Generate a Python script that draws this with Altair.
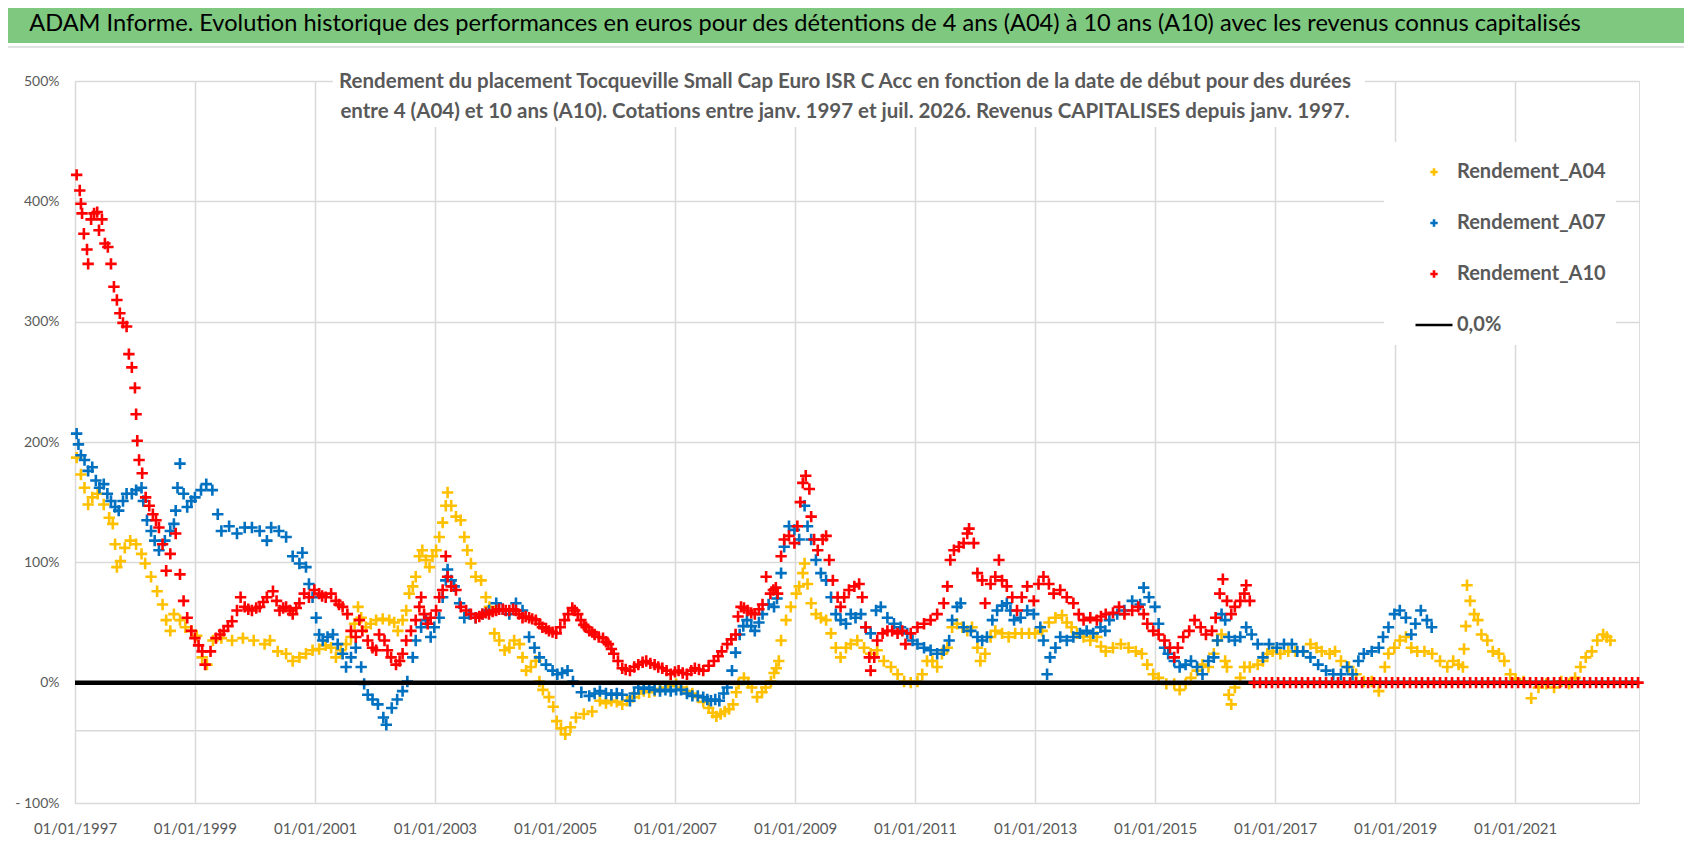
import altair as alt
import pandas as pd

TITLE = "ADAM Informe. Evolution historique des performances en euros pour des détentions de 4 ans (A04) à 10 ans (A10) avec les revenus connus capitalisés"
SUB1 = "Rendement du placement Tocqueville Small Cap Euro ISR C Acc en fonction de la date de début pour des durées"
SUB2 = "entre 4 (A04) et 10 ans (A10).  Cotations entre janv. 1997 et juil. 2026. Revenus CAPITALISES depuis janv. 1997."
SERIES = ["Rendement_A04", "Rendement_A07", "Rendement_A10", "0,0%"]
COLORS = ["#FFC000", "#0070C0", "#FF0000", "#000000"]
X_TICK_YEARS = [1997, 1999, 2001, 2003, 2005, 2007, 2009, 2011, 2013, 2015, 2017, 2019, 2021]
Y_TICKS = [-100, 0, 100, 200, 300, 400, 500]
EXTRA_GRID = -40

# (decimal year of start date, return %)
A04 = [(1997.03,187),(1997.10,173),(1997.16,162),(1997.22,148),(1997.29,154),(1997.38,157),(1997.48,148),(1997.57,137),(1997.63,132),(1997.67,115),(1997.70,96),(1997.76,101),(1997.83,112),(1997.92,118),(1998.02,115),(1998.11,107),(1998.17,99),(1998.27,88),(1998.37,76),(1998.46,65),(1998.52,52),(1998.59,43),(1998.65,57),(1998.75,52),(1998.84,46),(1998.94,43),(1999.03,39),(1999.12,21),(1999.20,15),(1999.30,35),(1999.44,37),(1999.62,35),(1999.80,37),(1999.98,35),(2000.16,32),(2000.25,35),(2000.38,26),(2000.52,24),(2000.63,18),(2000.74,21),(2000.85,24),(2000.96,27),(2001.07,28),(2001.18,31),(2001.27,29),(2001.35,21),(2001.43,27),(2001.52,32),(2001.60,38),(2001.66,49),(2001.72,63),(2001.77,54),(2001.85,46),(2001.93,49),(2002.02,52),(2002.13,53),(2002.24,52),(2002.32,50),(2002.38,43),(2002.46,52),(2002.52,60),(2002.57,74),(2002.63,80),(2002.68,88),(2002.74,105),(2002.79,110),(2002.85,102),(2002.91,96),(2002.96,105),(2003.02,110),(2003.07,121),(2003.13,133),(2003.18,147),(2003.21,158),(2003.27,147),(2003.35,138),(2003.43,135),(2003.49,121),(2003.54,110),(2003.60,99),(2003.68,88),(2003.77,85),(2003.85,71),(2003.91,63),(2003.99,41),(2004.07,35),(2004.16,27),(2004.24,29),(2004.32,35),(2004.41,32),(2004.46,21),(2004.52,10),(2004.60,13),(2004.68,18),(2004.74,1),(2004.80,-6),(2004.90,-12),(2004.97,-20),(2005.03,-32),(2005.10,-38),(2005.17,-43),(2005.26,-37),(2005.35,-29),(2005.48,-26),(2005.62,-24),(2005.75,-15),(2005.85,-17),(2005.94,-15),(2006.03,-16),(2006.12,-18),(2006.20,-15),(2006.30,-12),(2006.40,-9),(2006.48,-7),(2006.57,-8),(2006.66,-7),(2006.75,-5),(2006.84,-4),(2006.93,-3),(2007.02,-1),(2007.10,-4),(2007.20,-7),(2007.29,-9),(2007.38,-12),(2007.47,-16),(2007.56,-21),(2007.63,-25),(2007.69,-28),(2007.76,-26),(2007.83,-24),(2007.90,-22),(2007.97,-18),(2008.02,-8),(2008.06,-1),(2008.15,4),(2008.22,0),(2008.28,-4),(2008.37,-12),(2008.45,-8),(2008.51,-4),(2008.60,1),(2008.65,8),(2008.69,12),(2008.73,18),(2008.77,35),(2008.85,52),(2008.93,63),(2009.02,74),(2009.07,80),(2009.13,91),(2009.16,99),(2009.21,82),(2009.27,66),(2009.35,57),(2009.43,54),(2009.52,52),(2009.60,41),(2009.68,29),(2009.76,21),(2009.85,29),(2009.93,32),(2010.04,35),(2010.15,29),(2010.26,24),(2010.37,27),(2010.48,18),(2010.60,13),(2010.71,7),(2010.82,1),(2010.93,0),(2011.04,1),(2011.12,7),(2011.20,18),(2011.29,18),(2011.37,13),(2011.45,24),(2011.54,29),(2011.62,46),(2011.70,49),(2011.79,46),(2011.87,43),(2011.95,46),(2012.04,29),(2012.09,18),(2012.17,24),(2012.26,38),(2012.34,43),(2012.45,41),(2012.56,38),(2012.67,41),(2012.78,41),(2012.90,41),(2013.00,41),(2013.12,43),(2013.23,50),(2013.34,54),(2013.45,56),(2013.53,50),(2013.61,46),(2013.70,41),(2013.81,38),(2013.92,35),(2014.03,38),(2014.10,30),(2014.18,26),(2014.30,29),(2014.43,32),(2014.56,29),(2014.68,26),(2014.78,24),(2014.87,15),(2014.97,7),(2015.06,4),(2015.19,-1),(2015.32,-1),(2015.41,-6),(2015.51,-1),(2015.60,4),(2015.70,10),(2015.79,15),(2015.89,13),(2015.98,24),(2016.04,35),(2016.11,40),(2016.17,18),(2016.20,13),(2016.23,-10),(2016.27,-18),(2016.33,-4),(2016.42,4),(2016.49,13),(2016.58,13),(2016.71,15),(2016.80,18),(2016.87,24),(2016.96,26),(2017.09,24),(2017.22,26),(2017.34,26),(2017.47,26),(2017.59,32),(2017.69,29),(2017.78,26),(2017.91,24),(2018.00,26),(2018.10,18),(2018.23,13),(2018.35,7),(2018.48,1),(2018.61,1),(2018.73,-7),(2018.83,13),(2018.89,24),(2018.99,29),(2019.08,35),(2019.18,38),(2019.27,29),(2019.37,26),(2019.49,26),(2019.62,24),(2019.75,18),(2019.87,13),(2019.97,18),(2020.06,15),(2020.13,13),(2020.15,28),(2020.18,47),(2020.20,81),(2020.25,68),(2020.32,57),(2020.38,52),(2020.44,40),(2020.54,35),(2020.63,26),(2020.73,24),(2020.82,18),(2020.92,7),(2021.01,3),(2021.14,1),(2021.27,-13),(2021.39,-4),(2021.52,-1),(2021.65,-4),(2021.77,1),(2021.90,-1),(2022.00,4),(2022.09,13),(2022.18,21),(2022.28,26),(2022.37,35),(2022.47,40),(2022.53,38),(2022.59,35)]

A07 = [(1997.03,207),(1997.06,198),(1997.10,189),(1997.16,185),(1997.22,176),(1997.29,179),(1997.35,168),(1997.41,162),(1997.48,165),(1997.54,157),(1997.60,151),(1997.67,146),(1997.73,143),(1997.80,151),(1997.86,157),(1997.95,157),(1998.02,160),(1998.11,162),(1998.14,151),(1998.20,135),(1998.27,126),(1998.33,118),(1998.40,110),(1998.50,118),(1998.59,126),(1998.65,132),(1998.68,143),(1998.71,162),(1998.75,182),(1998.81,157),(1998.87,146),(1998.94,151),(1999.00,154),(1999.10,160),(1999.19,165),(1999.29,160),(1999.38,140),(1999.44,126),(1999.57,130),(1999.70,124),(1999.83,129),(1999.95,129),(2000.08,126),(2000.20,118),(2000.27,129),(2000.40,126),(2000.52,121),(2000.63,105),(2000.74,99),(2000.79,108),(2000.85,96),(2000.90,82),(2000.96,71),(2001.02,54),(2001.07,40),(2001.13,35),(2001.21,38),(2001.30,40),(2001.38,32),(2001.46,24),(2001.52,13),(2001.60,21),(2001.68,29),(2001.77,13),(2001.82,-1),(2001.88,-10),(2001.96,-14),(2002.05,-18),(2002.14,-29),(2002.19,-35),(2002.28,-21),(2002.37,-14),(2002.46,-7),(2002.54,1),(2002.63,21),(2002.68,35),(2002.77,46),(2002.85,52),(2002.93,38),(2002.99,46),(2003.07,54),(2003.13,71),(2003.18,85),(2003.21,94),(2003.27,85),(2003.32,80),(2003.41,66),(2003.49,54),(2003.57,57),(2003.68,54),(2003.79,57),(2003.90,60),(2004.02,66),(2004.13,61),(2004.24,57),(2004.35,66),(2004.46,60),(2004.57,38),(2004.66,29),(2004.74,21),(2004.85,15),(2004.96,10),(2005.04,7),(2005.12,8),(2005.21,10),(2005.30,1),(2005.44,-8),(2005.57,-11),(2005.66,-9),(2005.75,-7),(2005.85,-9),(2005.94,-10),(2006.03,-9),(2006.12,-10),(2006.25,-15),(2006.32,-9),(2006.39,-4),(2006.48,-5),(2006.57,-4),(2006.66,-6),(2006.75,-7),(2006.84,-6),(2006.93,-7),(2007.02,-6),(2007.10,-6),(2007.20,-9),(2007.29,-11),(2007.38,-11),(2007.47,-12),(2007.54,-14),(2007.60,-15),(2007.67,-14),(2007.74,-15),(2007.81,-9),(2007.87,-4),(2007.95,10),(2008.01,25),(2008.08,40),(2008.14,47),(2008.20,52),(2008.27,47),(2008.33,43),(2008.40,50),(2008.46,57),(2008.56,65),(2008.65,63),(2008.70,70),(2008.77,91),(2008.82,113),(2008.90,130),(2008.99,127),(2009.07,119),(2009.16,147),(2009.21,130),(2009.27,119),(2009.35,102),(2009.43,91),(2009.52,85),(2009.60,71),(2009.68,57),(2009.76,52),(2009.85,49),(2009.93,57),(2010.01,54),(2010.10,57),(2010.18,46),(2010.26,41),(2010.35,60),(2010.43,63),(2010.54,54),(2010.65,49),(2010.76,46),(2010.87,41),(2010.96,35),(2011.04,32),(2011.15,29),(2011.26,27),(2011.37,24),(2011.48,27),(2011.57,35),(2011.62,52),(2011.70,63),(2011.76,66),(2011.81,46),(2011.93,43),(2012.04,38),(2012.12,35),(2012.20,38),(2012.29,52),(2012.37,60),(2012.45,64),(2012.53,66),(2012.59,60),(2012.65,52),(2012.76,54),(2012.87,60),(2012.98,57),(2013.09,46),(2013.14,35),(2013.20,7),(2013.25,21),(2013.34,29),(2013.42,38),(2013.53,35),(2013.64,38),(2013.75,41),(2013.86,43),(2013.97,41),(2014.09,46),(2014.17,43),(2014.24,52),(2014.37,57),(2014.49,60),(2014.62,68),(2014.75,65),(2014.81,79),(2014.90,71),(2015.00,63),(2015.06,49),(2015.16,29),(2015.22,24),(2015.32,18),(2015.41,13),(2015.51,15),(2015.60,18),(2015.70,13),(2015.79,7),(2015.89,18),(2015.98,21),(2016.04,35),(2016.11,57),(2016.17,52),(2016.23,38),(2016.33,35),(2016.42,38),(2016.52,46),(2016.61,40),(2016.71,32),(2016.80,21),(2016.90,32),(2017.03,29),(2017.15,32),(2017.28,32),(2017.37,26),(2017.47,26),(2017.59,21),(2017.72,15),(2017.85,10),(2017.97,7),(2018.10,7),(2018.20,13),(2018.29,7),(2018.39,18),(2018.48,24),(2018.61,26),(2018.73,29),(2018.80,38),(2018.89,46),(2018.99,57),(2019.08,60),(2019.18,54),(2019.27,40),(2019.34,49),(2019.43,60),(2019.53,52),(2019.61,46)]

A10 = [(1997.03,422),(1997.08,409),(1997.10,398),(1997.12,390),(1997.15,373),(1997.20,360),(1997.22,348),(1997.27,385),(1997.32,390),(1997.37,391),(1997.40,376),(1997.45,385),(1997.50,365),(1997.55,362),(1997.60,348),(1997.65,329),(1997.70,318),(1997.75,307),(1997.80,299),(1997.86,296),(1997.90,273),(1997.95,262),(1998.00,245),(1998.02,223),(1998.04,201),(1998.07,185),(1998.12,174),(1998.18,154),(1998.24,147),(1998.30,140),(1998.35,135),(1998.40,129),(1998.46,115),(1998.52,93),(1998.59,107),(1998.68,124),(1998.75,90),(1998.81,68),(1998.87,54),(1998.94,43),(1999.00,37),(1999.06,31),(1999.12,26),(1999.17,15),(1999.26,26),(1999.35,37),(1999.42,40),(1999.48,43),(1999.55,47),(1999.62,51),(1999.70,60),(1999.76,71),(1999.83,63),(1999.89,61),(1999.95,60),(2000.02,62),(2000.08,63),(2000.14,67),(2000.20,71),(2000.30,76),(2000.36,68),(2000.41,60),(2000.47,62),(2000.52,63),(2000.58,60),(2000.63,57),(2000.69,62),(2000.74,66),(2000.82,74),(2000.90,71),(2000.99,77),(2001.07,74),(2001.12,72),(2001.18,71),(2001.27,74),(2001.35,68),(2001.40,65),(2001.46,63),(2001.54,57),(2001.60,43),(2001.68,38),(2001.74,52),(2001.79,43),(2001.88,35),(2001.96,29),(2002.02,27),(2002.07,40),(2002.16,35),(2002.21,27),(2002.27,21),(2002.35,15),(2002.41,18),(2002.46,24),(2002.52,35),(2002.60,43),(2002.68,52),(2002.74,63),(2002.77,71),(2002.82,57),(2002.88,49),(2002.93,54),(2003.02,60),(2003.07,71),(2003.13,77),(2003.18,105),(2003.21,88),(2003.27,80),(2003.35,77),(2003.43,63),(2003.52,60),(2003.60,57),(2003.68,54),(2003.74,55),(2003.79,57),(2003.85,58),(2003.90,57),(2003.96,59),(2004.02,60),(2004.07,61),(2004.13,61),(2004.18,60),(2004.24,60),(2004.30,61),(2004.35,60),(2004.40,57),(2004.46,54),(2004.51,55),(2004.57,54),(2004.62,53),(2004.68,52),(2004.74,49),(2004.79,46),(2004.85,45),(2004.90,43),(2004.96,42),(2005.02,41),(2005.09,46),(2005.16,52),(2005.22,57),(2005.29,62),(2005.33,60),(2005.38,57),(2005.43,52),(2005.48,48),(2005.52,46),(2005.57,43),(2005.62,42),(2005.66,40),(2005.73,38),(2005.80,37),(2005.85,34),(2005.89,32),(2005.94,28),(2005.98,24),(2006.05,18),(2006.12,12),(2006.18,11),(2006.25,10),(2006.32,13),(2006.39,15),(2006.46,17),(2006.52,18),(2006.59,16),(2006.66,15),(2006.72,13),(2006.79,12),(2006.86,10),(2006.93,7),(2007.00,9),(2007.06,10),(2007.13,8),(2007.20,7),(2007.27,10),(2007.33,12),(2007.40,11),(2007.47,10),(2007.56,14),(2007.65,18),(2007.72,22),(2007.78,26),(2007.87,32),(2007.94,36),(2008.01,40),(2008.05,55),(2008.10,63),(2008.15,62),(2008.21,60),(2008.27,58),(2008.33,57),(2008.40,61),(2008.46,65),(2008.52,88),(2008.59,74),(2008.64,77),(2008.68,79),(2008.71,74),(2008.77,105),(2008.82,119),(2008.90,122),(2008.99,116),(2009.04,130),(2009.09,150),(2009.13,166),(2009.18,172),(2009.24,161),(2009.27,138),(2009.32,119),(2009.38,110),(2009.46,119),(2009.52,122),(2009.57,102),(2009.63,85),(2009.71,71),(2009.76,63),(2009.82,71),(2009.90,77),(2009.99,80),(2010.07,82),(2010.12,71),(2010.18,46),(2010.24,21),(2010.26,10),(2010.32,21),(2010.37,35),(2010.46,41),(2010.54,43),(2010.62,43),(2010.71,41),(2010.79,43),(2010.84,32),(2010.93,41),(2011.04,46),(2011.15,49),(2011.26,52),(2011.37,57),(2011.48,66),(2011.54,80),(2011.59,102),(2011.65,110),(2011.73,113),(2011.81,116),(2011.87,124),(2011.90,128),(2011.98,116),(2012.04,91),(2012.12,85),(2012.17,66),(2012.26,82),(2012.34,88),(2012.40,102),(2012.45,85),(2012.53,80),(2012.62,71),(2012.70,60),(2012.78,71),(2012.87,80),(2012.98,68),(2013.06,82),(2013.14,88),(2013.23,82),(2013.31,74),(2013.42,77),(2013.53,71),(2013.64,66),(2013.73,57),(2013.81,52),(2013.92,54),(2014.03,52),(2014.10,55),(2014.18,57),(2014.30,58),(2014.40,63),(2014.49,57),(2014.62,60),(2014.72,63),(2014.81,57),(2014.87,49),(2014.97,43),(2015.06,40),(2015.16,35),(2015.25,29),(2015.32,21),(2015.38,29),(2015.47,38),(2015.57,43),(2015.66,52),(2015.76,46),(2015.85,40),(2015.95,43),(2016.01,54),(2016.08,74),(2016.13,86),(2016.20,68),(2016.27,57),(2016.33,63),(2016.42,68),(2016.49,74),(2016.52,81),(2016.58,68),
       (2016.65,0),(2016.75,0),(2016.85,0),(2016.95,0),(2017.05,0),(2017.15,0),(2017.25,0),(2017.35,0),(2017.45,0),(2017.55,0),(2017.65,0),(2017.75,0),(2017.85,0),(2017.95,0),(2018.05,0),(2018.15,0),(2018.25,0),(2018.35,0),(2018.45,0),(2018.55,0),(2018.65,0),(2018.75,0),(2018.85,0),(2018.95,0),(2019.05,0),(2019.15,0),(2019.25,0),(2019.35,0),(2019.45,0),(2019.55,0),(2019.65,0),(2019.75,0),(2019.85,0),(2019.95,0),(2020.05,0),(2020.15,0),(2020.25,0),(2020.35,0),(2020.45,0),(2020.55,0),(2020.65,0),(2020.75,0),(2020.85,0),(2020.95,0),(2021.05,0),(2021.15,0),(2021.25,0),(2021.35,0),(2021.45,0),(2021.55,0),(2021.65,0),(2021.75,0),(2021.85,0),(2021.95,0),(2022.05,0),(2022.15,0),(2022.25,0),(2022.35,0),(2022.45,0),(2022.55,0),(2022.65,0),(2022.75,0),(2022.85,0),(2022.95,0),(2023.05,0)]

ZERO_LINE = [(1997.0, 0), (2023.07, 0)]


def to_iso(y):
    d = pd.Timestamp("1997-01-01") + pd.Timedelta(days=(y - 1997.0) * 365.25)
    return d.strftime("%Y-%m-%d")


def frame(pairs, name):
    return pd.DataFrame({"date": [to_iso(t) for t, _ in pairs],
                         "v": [v for _, v in pairs],
                         "series": name})


df_yb = pd.concat([frame(A04, SERIES[0]), frame(A07, SERIES[1])], ignore_index=True)
df_r = frame(A10, SERIES[2])
df_zero = frame(ZERO_LINE, SERIES[3])

PLUS = "M-0.2,0L0.2,0M0,-0.2L0,0.2"
FONT = "Lato"
GRAY = "#595959"
GRID = "#D9D9D9"

xscale = alt.Scale(type="utc", nice=False,
                   domain=[alt.DateTime(year=1997, month=1, date=1, utc=True),
                           alt.DateTime(year=2023, month=1, date=25, utc=True)])
yscale = alt.Scale(domain=[-100, 500], nice=False, zero=False)

xaxis = alt.Axis(values=[alt.DateTime(year=y, month=1, date=1, utc=True) for y in X_TICK_YEARS],
                 labelExpr="utcFormat(datum.value, '%d/%m/%Y')",
                 grid=True, gridColor=GRID, gridWidth=1.5, domain=False, ticks=False, tickSize=0,
                 labelPadding=18, labelFont=FONT, labelFontSize=15, labelColor=GRAY,
                 labelFlush=False, labelOverlap=False, title=None)
yaxis = alt.Axis(values=Y_TICKS,
                 labelExpr="datum.value < 0 ? '- ' + abs(datum.value) + '%' : datum.value + '%'",
                 grid=True, gridColor=GRID, gridWidth=1.5, domain=False, ticks=False, tickSize=0,
                 labelPadding=16, labelFont=FONT, labelFontSize=14, labelColor=GRAY, title=None)

X = alt.X("date:T", scale=xscale, axis=xaxis)
Y = alt.Y("v:Q", scale=yscale, axis=yaxis)

leg = dict(title=None, orient="none", legendX=1309, legendY=61, padding=10, fillColor="white",
           labelFont=FONT, labelFontSize=20, labelFontWeight="bold", labelColor=GRAY,
           symbolSize=1369, symbolOffset=20, labelOffset=3, rowPadding=21)

COLOR = alt.Color("series:N", scale=alt.Scale(domain=SERIES, range=COLORS), legend=alt.Legend(**leg))
SHAPE = alt.Shape("series:N", scale=alt.Scale(domain=SERIES, range=[PLUS, PLUS, PLUS, "stroke"]),
                  legend=alt.Legend(**leg))
SW = alt.StrokeWidth("series:N", scale=alt.Scale(domain=SERIES, range=[2.6, 2.6, 2.6, 4.5]),
                     legend=alt.Legend(**leg))

grid40 = alt.Chart(pd.DataFrame({"g": [EXTRA_GRID]})).mark_rule(color=GRID, strokeWidth=1.5).encode(
    y=alt.Y("g:Q", scale=yscale, axis=yaxis))

PT_SIZE = 3250
pts_yb = alt.Chart(df_yb).mark_point(filled=False, size=PT_SIZE, opacity=1).encode(
    x=X, y=Y, color=COLOR, shape=SHAPE, strokeWidth=SW)
zero = alt.Chart(df_zero).mark_line(color="black", strokeWidth=4.5).encode(x=X, y=Y)
pts_r = alt.Chart(df_r).mark_point(filled=False, size=PT_SIZE, opacity=1).encode(
    x=X, y=Y, color=COLOR, shape=SHAPE, strokeWidth=SW)

txt = pd.DataFrame({"t": [TITLE, SUB1, SUB2]})
banner = alt.Chart(txt.iloc[[0]]).mark_rect(color="#7EC87F").encode(
    x=alt.value(-67), x2=alt.value(1609), y=alt.value(-73), y2=alt.value(-38))
banner_line = alt.Chart(txt.iloc[[0]]).mark_rule(color=GRID, strokeWidth=1.5).encode(
    x=alt.value(-67), x2=alt.value(1609), y=alt.value(-34))
title = alt.Chart(txt.iloc[[0]]).mark_text(font=FONT, fontSize=23.6, color="black", align="center",
                                           baseline="middle").encode(
    text="t:N", x=alt.value(730), y=alt.value(-57))
sub_box = alt.Chart(txt.iloc[[1]]).mark_rect(color="white").encode(
    x=alt.value(258), x2=alt.value(1290), y=alt.value(-12), y2=alt.value(46))
sub1 = alt.Chart(txt.iloc[[1]]).mark_text(font=FONT, fontSize=20.5, fontWeight="bold", color=GRAY,
                                          align="center", baseline="middle").encode(
    text="t:N", x=alt.value(770), y=alt.value(1))
sub2 = alt.Chart(txt.iloc[[2]]).mark_text(font=FONT, fontSize=20.5, fontWeight="bold", color=GRAY,
                                          align="center", baseline="middle").encode(
    text="t:N", x=alt.value(770), y=alt.value(31))

chart = alt.layer(grid40, pts_yb, zero, pts_r, sub_box, sub1, sub2, banner, banner_line, title).properties(
    width=1564, height=722,
    padding={"left": 67, "top": 73, "right": 45, "bottom": 40},
    autosize=alt.AutoSizeParams(type="none"),
    background="white",
).configure_view(stroke=None).configure(font=FONT)

chart.save("out.html", embed_options={"renderer": "svg", "actions": False})
